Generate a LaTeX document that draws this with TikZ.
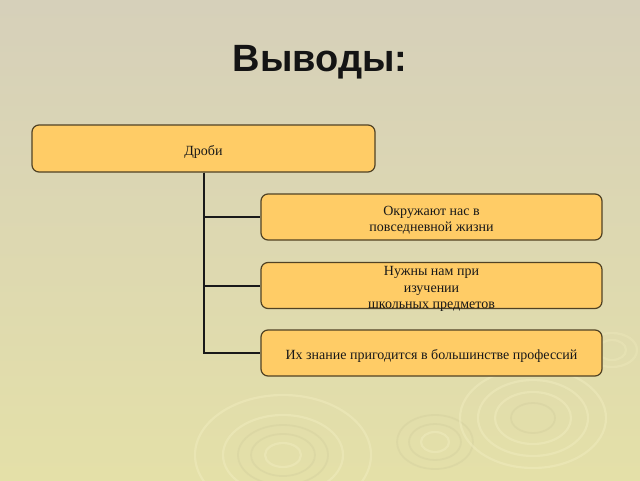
\documentclass[tikz,border=0pt]{standalone}
\usepackage{fontspec}
\setmainfont{Liberation Serif}
\newfontfamily\titlefont{Liberation Sans}
\definecolor{bgtop}{RGB}{214,208,186}
\definecolor{bgbot}{RGB}{228,224,168}
\definecolor{boxfill}{RGB}{255,204,102}
\definecolor{boxline}{RGB}{80,66,36}
\definecolor{ringlight}{RGB}{240,236,190}
\definecolor{ringdark}{RGB}{200,196,150}
\newcommand\boxtext[1]{\raisebox{-6.8pt}[0pt][0pt]{\begin{tabular}{@{}c@{}}#1\end{tabular}}}
\tikzset{
  box/.style={draw=boxline, line width=1.2pt, fill=boxfill, rounded corners=7pt,
    align=center, inner sep=0pt, text=black!90,
    font=\fontsize{14}{16.5}\selectfont},
  conn/.style={line width=2pt, draw=black!90, line join=miter},
  ringL/.style={draw=ringlight, line width=2.2pt, opacity=0.5},
  ringD/.style={draw=ringdark, line width=1.8pt, opacity=0.25},
}
\begin{document}
\begin{tikzpicture}[x=1pt,y=-1pt]
\useasboundingbox (0,0) rectangle (640,480);
\shade[top color=bgtop, bottom color=bgbot] (0,0) rectangle (640,480);
% decorative rings
\begin{scope}
\draw[ringL] (283,455) ellipse (88 and 60);
\draw[ringL] (283,455) ellipse (60 and 40);
\draw[ringD] (283,455) ellipse (45 and 30);
\draw[ringD] (283,455) ellipse (32 and 21);
\draw[ringL] (283,455) ellipse (18 and 12);
\draw[ringD] (435,442) ellipse (38 and 27);
\draw[ringD] (435,442) ellipse (26 and 18);
\draw[ringL] (435,442) ellipse (14 and 10);
\draw[ringL] (533,418) ellipse (73 and 50);
\draw[ringL] (533,418) ellipse (55 and 38);
\draw[ringL] (533,418) ellipse (38 and 26);
\draw[ringD] (533,418) ellipse (22 and 15);
\draw[ringL, opacity=0.35] (612,350) ellipse (25 and 17);
\draw[ringL, opacity=0.35] (612,350) ellipse (14 and 10);
\end{scope}
\node[font=\titlefont\bfseries\fontsize{38}{40}\selectfont, text=black!92] (title) at (320,62) {Выводы:};
\node[box, minimum width=343pt, minimum height=47pt] (b1) at (203.5,148.5) {\boxtext{Дроби}};
\node[box, minimum width=341pt, minimum height=46pt] (b2) at (431.5,217) {\boxtext{Окружают нас в\\повседневной жизни}};
\node[box, minimum width=341pt, minimum height=46pt] (b3) at (431.5,285.5) {\boxtext{Нужны нам при\\изучении\\школьных предметов}};
\node[box, minimum width=341pt, minimum height=46pt] (b4) at (431.5,353) {\boxtext{Их знание пригодится в большинстве профессий}};
\draw[conn] (b1.south) |- (b4.west);
\draw[conn] (b1.south) |- (b2.west);
\draw[conn] (b1.south) |- (b3.west);
\end{tikzpicture}
\end{document}
